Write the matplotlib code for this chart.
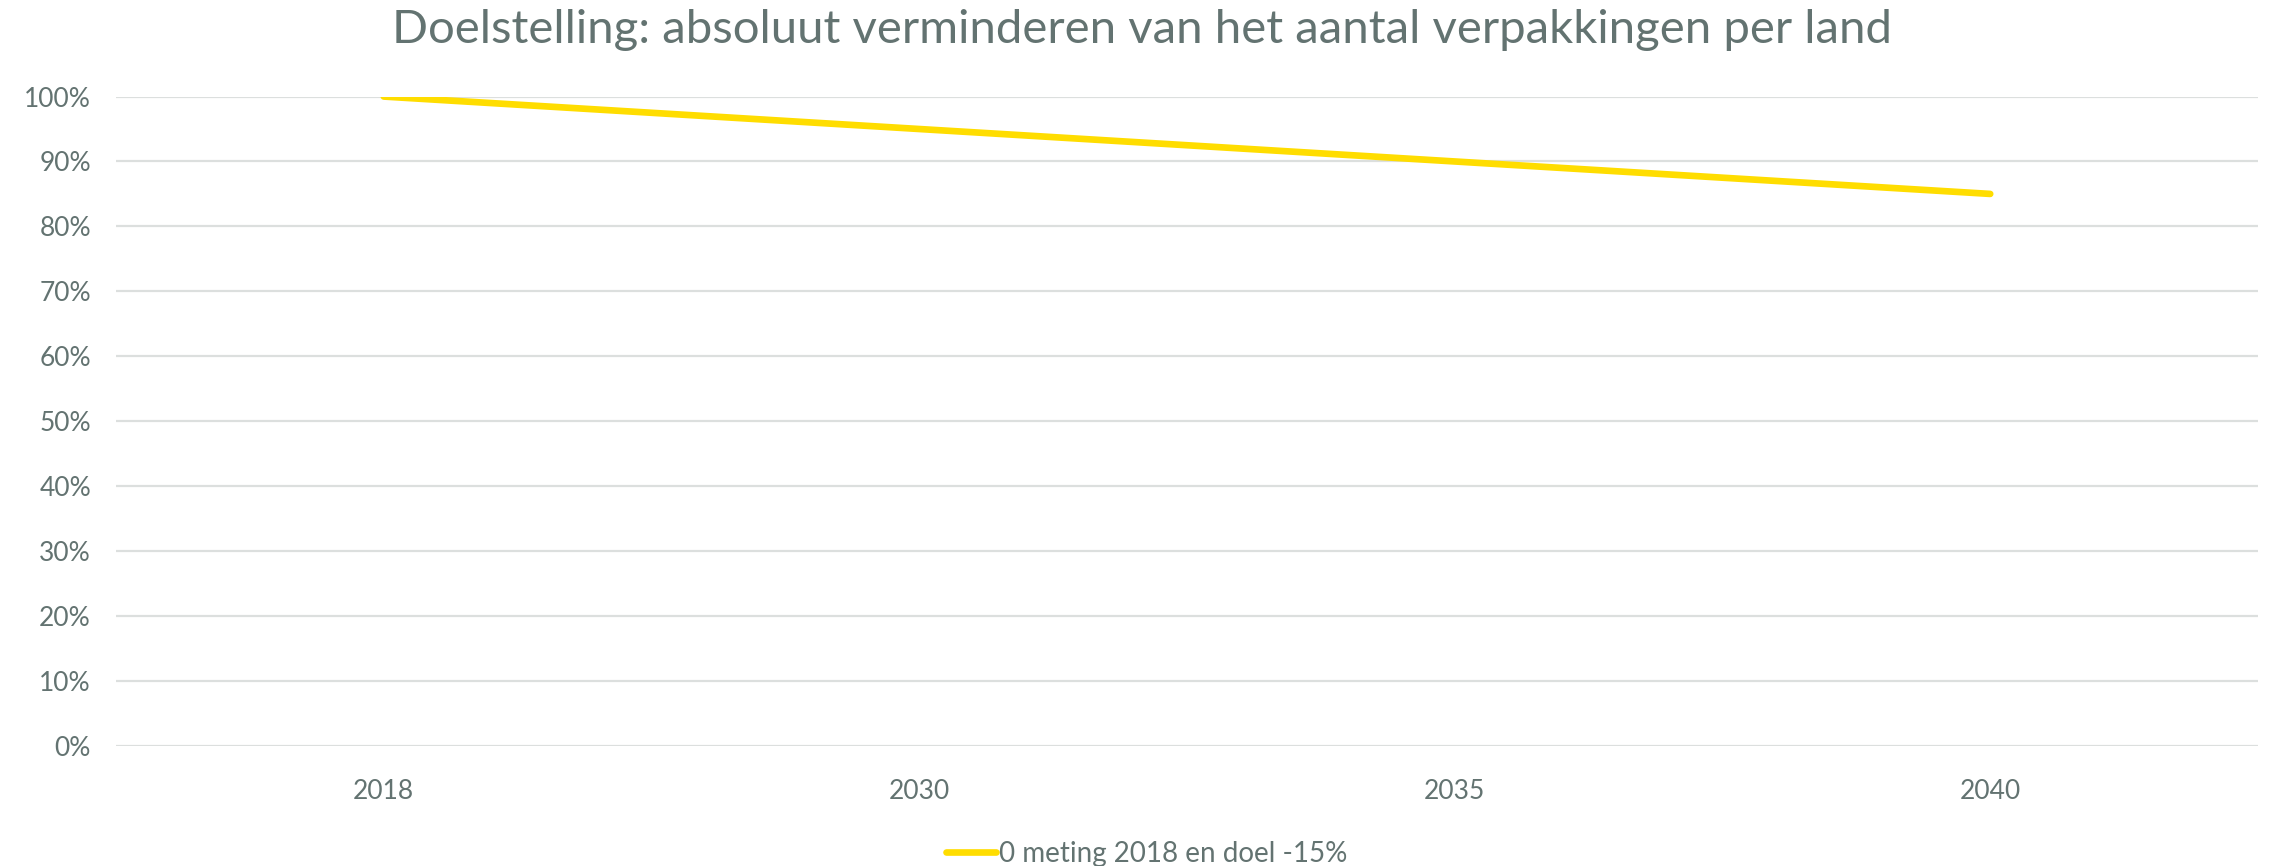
#!/usr/bin/env python3

import matplotlib
matplotlib.use('Agg')
import matplotlib.pyplot as plt
import matplotlib.ticker as tkr
import numpy as np

# chart data
years = ['2018', '2030', '2035', '2040']
target = [1.00, 0.95, 0.90, 0.85]
series_name = '0 meting 2018 en doel -15%'
title = 'Doelstelling: absoluut verminderen van het aantal verpakkingen per land'

TEXT = '#637371'
GRID = '#dcdfde'
YELLOW = '#ffdd00'


def main():
  plt.rcParams['font.family'] = ['Lato', 'DejaVu Sans']
  fig = plt.figure(figsize=(22.7, 8.66), dpi=100)
  ax = fig.add_axes([0.0511, 0.139, 0.9436, 0.7495])

  x = np.arange(len(years))
  ax.plot(x, target, color=YELLOW, lw=4.8, solid_capstyle='round',
          label=series_name)

  ax.set_xlim(-0.5, len(years) - 0.5)
  ax.set_ylim(0, 1)
  ax.set_xticks(x)
  ax.set_xticklabels(years)
  ax.set_yticks(np.arange(0, 1.01, 0.1))
  ax.yaxis.set_major_formatter(tkr.PercentFormatter(1.0, decimals=0))
  ax.grid(axis='y', color=GRID, lw=1.6)
  ax.set_axisbelow(True)
  for s in ax.spines.values():
    s.set_visible(False)
  ax.tick_params(axis='both', length=0, colors=TEXT, labelsize=19)
  ax.tick_params(axis='x', pad=24)
  ax.tick_params(axis='y', pad=18)

  fig.suptitle(title, x=0.503, y=0.99, color=TEXT, fontsize=34, va='top')

  fig.legend(loc='lower center', bbox_to_anchor=(0.505, -0.03), frameon=False,
             fontsize=20, labelcolor=TEXT, handlelength=1.8, handletextpad=0.1)

  fig.savefig('out.png', dpi=100)


if __name__ == '__main__':
  main()
